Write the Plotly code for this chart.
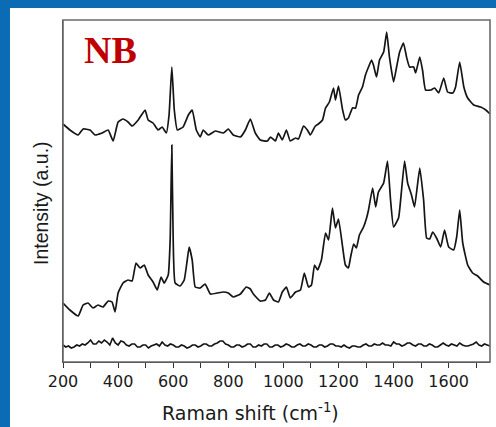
import plotly.graph_objects as go

# ---- data (Raman shift in cm^-1, intensity in arbitrary units) ----
top_shift = [200, 225, 255, 273, 298, 316, 342, 364, 382, 400, 418, 436, 451, 473, 498, 509, 527, 545, 560, 575,
             585, 595, 604, 615, 636, 655, 669, 684, 698, 709, 727, 753, 782, 800, 818, 844, 862, 880, 898, 916,
             942, 953, 971, 982, 996, 1011, 1025, 1044, 1055, 1073, 1087, 1098, 1116, 1127, 1142, 1153, 1167, 1182,
             1189, 1200, 1215, 1225, 1236, 1251, 1262, 1273, 1287, 1298, 1309, 1320, 1327, 1338, 1349, 1364, 1375,
             1385, 1400, 1411, 1422, 1436, 1447, 1458, 1473, 1480, 1495, 1505, 1516, 1535, 1549, 1564, 1582, 1596,
             1615, 1625, 1640, 1655, 1669, 1691, 1716, 1735, 1750]
top_int = [238, 232, 227, 233, 232, 227, 229, 232, 221, 240, 243, 240, 236, 242, 252, 242, 239, 232, 235, 229,
           247, 295, 252, 232, 235, 247, 252, 232, 225, 232, 227, 231, 229, 233, 227, 225, 232, 243, 229, 222,
           221, 225, 221, 229, 222, 232, 221, 224, 223, 236, 232, 227, 236, 238, 242, 254, 260, 274,
           262, 276, 252, 242, 244, 254, 254, 267, 275, 287, 295, 302, 297, 285, 302, 310, 330,
           305, 280, 295, 310, 319, 305, 295, 295, 289, 305, 292, 272, 272, 274, 269, 284, 270,
           269, 275, 300, 275, 264, 257, 255, 252, 248]

mid_shift = [200, 225, 255, 273, 291, 309, 327, 345, 364, 378, 389, 400, 418, 436, 451, 465, 480, 495, 509, 527,
             542, 556, 567, 582, 589, 595, 600, 607, 625, 640, 651, 658, 669, 680, 698, 716, 735, 760, 782, 800,
             818, 844, 865, 880, 891, 916, 935, 949, 964, 982, 996, 1011, 1025, 1044, 1062, 1076, 1091, 1102,
             1113, 1124, 1138, 1153, 1164, 1178, 1189, 1200, 1215, 1225, 1236, 1244, 1255, 1265, 1276, 1291,
             1302, 1309, 1324, 1335, 1345, 1364, 1378, 1389, 1400, 1418, 1429, 1440, 1451, 1465, 1476, 1495,
             1509, 1520, 1531, 1542, 1556, 1571, 1585, 1600, 1618, 1629, 1640, 1651, 1669, 1687, 1705, 1727, 1750]
mid_int = [59, 52, 46, 57, 59, 54, 57, 55, 61, 60, 50, 69, 79, 82, 81, 99, 94, 97, 87, 80,
           72, 85, 79, 87, 122, 217, 122, 79, 76, 82, 102, 115, 102, 75, 74, 78, 68, 69, 70, 69,
           65, 68, 75, 73, 68, 61, 62, 69, 62, 60, 70, 75, 64, 70, 72, 89, 75, 77,
           97, 92, 102, 129, 122, 154, 134, 143, 115, 97, 94, 105, 118, 114, 127, 135,
           144, 152, 174, 155, 170, 179, 201, 162, 135, 144, 172, 201, 179, 167, 155, 194,
           162, 124, 123, 130, 124, 115, 132, 115, 112, 125, 152, 119, 97, 89, 86, 80, 77]

bot_shift = [200, 210, 220, 230, 240, 250, 260, 270, 280, 290, 300, 310, 320, 330, 340, 350, 360, 370, 380, 390,
             400, 410, 420, 430, 440, 450, 460, 470, 480, 490, 500, 510, 520, 530, 540, 550, 560, 570, 580, 590,
             600, 610, 620, 630, 640, 650, 660, 670, 680, 690, 700, 710, 720, 730, 740, 750, 760, 770, 780, 790,
             800, 810, 820, 830, 840, 850, 860, 870, 880, 890, 900, 910, 920, 930, 940, 950, 960, 970, 980, 990,
             1000, 1010, 1020, 1030, 1040, 1050, 1060, 1070, 1080, 1090, 1100, 1110, 1120, 1130, 1140, 1150,
             1160, 1170, 1180, 1190, 1200, 1210, 1220, 1230, 1240, 1250, 1260, 1270, 1280, 1290, 1300, 1310,
             1320, 1330, 1340, 1350, 1360, 1370, 1380, 1390, 1400, 1410, 1420, 1430, 1440, 1450, 1460, 1470,
             1480, 1490, 1500, 1510, 1520, 1530, 1540, 1550, 1560, 1570, 1580, 1590, 1600, 1610, 1620, 1630,
             1640, 1650, 1660, 1670, 1680, 1690, 1700, 1710, 1720, 1730, 1740, 1750]
bot_int = [17, 15, 16, 14, 15, 17, 16, 18, 17, 19, 22, 18, 18, 21, 19, 22, 20, 17, 24, 19,
           17, 21, 20, 17, 16, 18, 18, 15, 15, 17, 17, 14, 16, 17, 18, 16, 20, 17, 16, 18,
           17, 15, 15, 17, 16, 14, 15, 17, 17, 15, 16, 18, 18, 16, 16, 18, 19, 21, 21, 18,
           17, 15, 15, 17, 17, 15, 16, 18, 18, 15, 15, 17, 16, 18, 18, 15, 15, 17, 17, 15,
           16, 18, 17, 15, 15, 17, 18, 16, 16, 18, 17, 15, 15, 17, 17, 15,
           16, 18, 18, 16, 16, 15, 17, 15, 14, 16, 16, 15, 15, 17, 18, 16,
           16, 18, 17, 17, 19, 17, 17, 16, 20, 18, 18, 16, 17, 19, 19, 17,
           16, 18, 18, 16, 16, 18, 17, 15, 15, 17, 19, 17, 16, 18, 17, 16,
           19, 17, 16, 16, 17, 18, 20, 17, 16, 18, 17, 16]

x_ticks = [200, 400, 600, 800, 1000, 1200, 1400, 1600]
x_minor = [300, 500, 700, 900, 1100, 1300, 1500, 1700]

BLUE = "#0B6CB5"
LINE = "#151515"

fig = go.Figure()
for xs, ys in [(top_shift, top_int), (mid_shift, mid_int)]:
    fig.add_trace(go.Scatter(x=xs, y=ys, mode="lines",
                             line=dict(color=LINE, width=1.7, shape="spline", smoothing=0.4),
                             showlegend=False, hoverinfo="skip"))
fig.add_trace(go.Scatter(x=bot_shift, y=bot_int, mode="lines",
                         line=dict(color=LINE, width=1.6),
                         showlegend=False, hoverinfo="skip"))

W, H = 496, 427
L, R, T, B = 63, 6, 20, 65
pw, ph = W - L - R, H - T - B

def px_to_paper_x(px):
    return (px - L) / pw

def px_to_paper_y(py):
    return (H - B - py) / ph

# white panel on blue background
fig.add_shape(type="rect", xref="paper", yref="paper",
              x0=px_to_paper_x(10), x1=px_to_paper_x(W + 5),
              y0=px_to_paper_y(H + 5), y1=px_to_paper_y(8),
              fillcolor="white", line=dict(width=0), layer="below")
# plot frame
fig.add_shape(type="rect", xref="paper", yref="paper", x0=0, x1=1, y0=0, y1=1,
              line=dict(color="#6a6a6a", width=1.6), fillcolor="rgba(0,0,0,0)")

fig.update_layout(
    width=W, height=H,
    margin=dict(l=L, r=R, t=T, b=B),
    paper_bgcolor=BLUE,
    plot_bgcolor="white",
    font=dict(family="DejaVu Sans, Liberation Sans, sans-serif", color="#1a1a1a"),
    xaxis=dict(range=[200, 1750], tickvals=x_ticks, ticks="outside", ticklen=5, tickwidth=1,
               tickcolor="#333", showline=True, linecolor="#333", linewidth=1.2,
               showgrid=False, zeroline=False,
               tickfont=dict(size=16, color="#1a1a1a", family="DejaVu Sans"),
               minor=dict(ticks="outside", ticklen=5, tickwidth=1, tickcolor="#333",
                          tickvals=x_minor, showgrid=False)),
    yaxis=dict(range=[0, 342], showticklabels=False, ticks="", showline=True,
               linecolor="#333", linewidth=1.2, showgrid=False, zeroline=False),
)

fig.add_annotation(text="Raman shift (cm<sup>-1</sup>)", xref="paper", yref="paper",
                   x=px_to_paper_x(250), y=px_to_paper_y(412), showarrow=False,
                   font=dict(size=19, color="#1a1a1a", family="DejaVu Sans"),
                   xanchor="center", yanchor="middle")
fig.add_annotation(text="Intensity (a.u.)", xref="paper", yref="paper",
                   x=px_to_paper_x(41), y=px_to_paper_y(203), showarrow=False, textangle=-90,
                   font=dict(size=19.5, color="#1a1a1a", family="Liberation Sans"),
                   xanchor="center", yanchor="middle")
fig.add_annotation(text="<b>NB</b>", xref="paper", yref="paper",
                   x=px_to_paper_x(110), y=px_to_paper_y(50), showarrow=False,
                   font=dict(size=38, color="#C00000", family="Liberation Serif, Times New Roman, serif"),
                   xanchor="center", yanchor="middle")

fig.write_html("out.html")
